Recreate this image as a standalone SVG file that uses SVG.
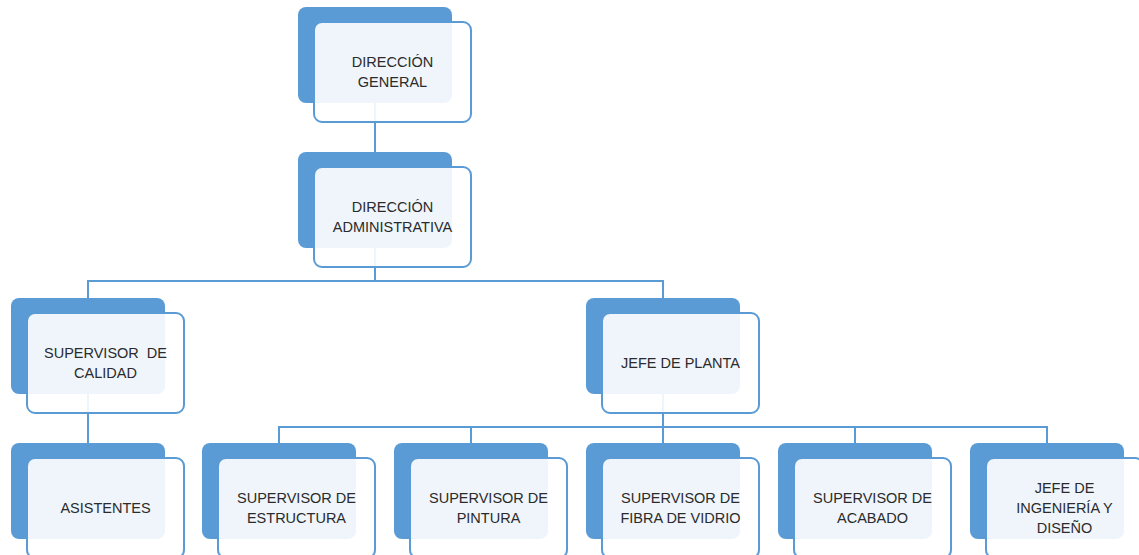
<svg xmlns="http://www.w3.org/2000/svg" width="1139" height="555" viewBox="0 0 1139 555">
<style>
.bk{fill:#5B9BD5}
.fr{fill:#fff;fill-opacity:0.9;stroke:#5B9BD5;stroke-width:2}
.t{font-family:"Liberation Sans",Arial,sans-serif;font-size:14.5px;fill:#2b2b2b;text-anchor:middle}
.c{stroke:#5B9BD5;stroke-width:2;fill:none}
</style>
<rect width="1139" height="555" fill="#fff"/>
<g id="connectors">
<path class="c" d="M375 100V155"/>
<path class="c" d="M375 245V281M88 281H663M88 280V300M663 280V300"/>
<path class="c" d="M88 390V445"/>
<path class="c" d="M663 390V427M279 427H1047M279 426V445M471 426V445M663 426V445M855 426V445M1047 426V445"/>
</g>
<g id="n1"><rect class="bk" x="298" y="7" width="154" height="96" rx="8"/><rect class="fr" x="314" y="22" width="157" height="100" rx="8"/><text class="t" x="392.5" y="67">DIRECCIÓN</text><text class="t" x="392.5" y="87">GENERAL</text></g>
<g id="n2"><rect class="bk" x="298" y="152" width="154" height="96" rx="8"/><rect class="fr" x="314" y="167" width="157" height="100" rx="8"/><text class="t" x="392.5" y="212">DIRECCIÓN</text><text class="t" x="392.5" y="232">ADMINISTRATIVA</text></g>
<g id="n3"><rect class="bk" x="11" y="298" width="154" height="96" rx="8"/><rect class="fr" x="27" y="313" width="157" height="100" rx="8"/><text class="t" x="105.5" y="358" xml:space="preserve">SUPERVISOR  DE</text><text class="t" x="105.5" y="378">CALIDAD</text></g>
<g id="n4"><rect class="bk" x="586" y="298" width="154" height="96" rx="8"/><rect class="fr" x="602" y="313" width="157" height="100" rx="8"/><text class="t" x="680.5" y="368">JEFE DE PLANTA</text></g>
<g id="n5"><rect class="bk" x="11" y="443" width="154" height="96" rx="8"/><rect class="fr" x="27" y="458" width="157" height="100" rx="8"/><text class="t" x="105.5" y="513">ASISTENTES</text></g>
<g id="n6"><rect class="bk" x="202" y="443" width="154" height="96" rx="8"/><rect class="fr" x="218" y="458" width="157" height="100" rx="8"/><text class="t" x="296.5" y="503">SUPERVISOR DE</text><text class="t" x="296.5" y="523">ESTRUCTURA</text></g>
<g id="n7"><rect class="bk" x="394" y="443" width="154" height="96" rx="8"/><rect class="fr" x="410" y="458" width="157" height="100" rx="8"/><text class="t" x="488.5" y="503">SUPERVISOR DE</text><text class="t" x="488.5" y="523">PINTURA</text></g>
<g id="n8"><rect class="bk" x="586" y="443" width="154" height="96" rx="8"/><rect class="fr" x="602" y="458" width="157" height="100" rx="8"/><text class="t" x="680.5" y="503">SUPERVISOR DE</text><text class="t" x="680.5" y="523">FIBRA DE VIDRIO</text></g>
<g id="n9"><rect class="bk" x="778" y="443" width="154" height="96" rx="8"/><rect class="fr" x="794" y="458" width="157" height="100" rx="8"/><text class="t" x="872.5" y="503">SUPERVISOR DE</text><text class="t" x="872.5" y="523">ACABADO</text></g>
<g id="n10"><rect class="bk" x="970" y="443" width="154" height="96" rx="8"/><rect class="fr" x="986" y="458" width="157" height="100" rx="8"/><text class="t" x="1064.5" y="493">JEFE DE</text><text class="t" x="1064.5" y="513">INGENIERÍA Y</text><text class="t" x="1064.5" y="533">DISEÑO</text></g>
</svg>
